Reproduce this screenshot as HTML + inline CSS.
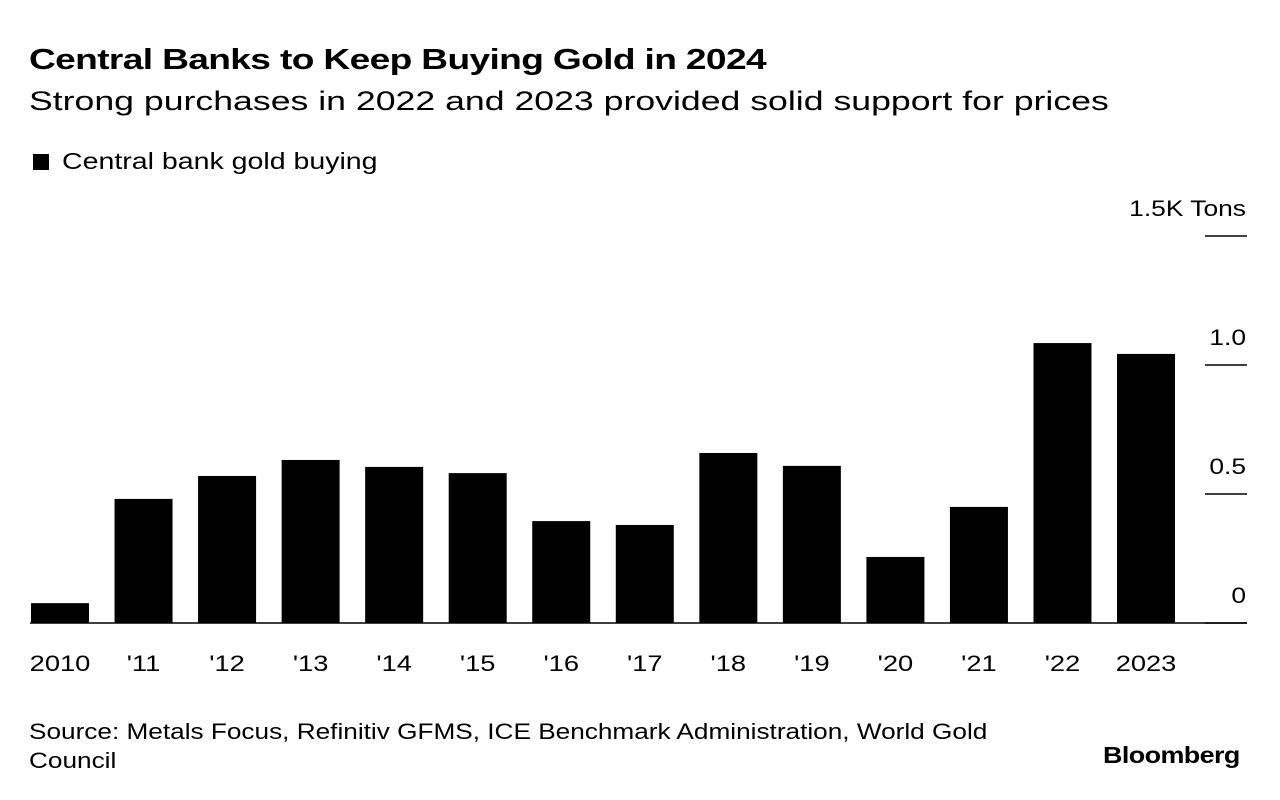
<!DOCTYPE html>
<html><head><meta charset="utf-8"><style>
body{margin:0;width:1280px;height:800px;background:#fff;font-family:"Liberation Sans",sans-serif;color:#000;overflow:hidden;position:relative}
.t{position:absolute;white-space:nowrap;transform-origin:left top}
</style></head><body>
<div class="t" style="left:29px;top:44px;font-size:29px;font-weight:bold;letter-spacing:-0.5px;transform:scaleX(1.28)">Central Banks to Keep Buying Gold in 2024</div>
<div class="t" style="left:29px;top:86px;font-size:27px;transform:scaleX(1.32)">Strong purchases in 2022 and 2023 provided solid support for prices</div>
<div class="t" style="left:33px;top:154px;width:16px;height:16px;background:#000"></div>
<div class="t" style="left:62px;top:148px;font-size:23px;transform:scaleX(1.24)">Central bank gold buying</div>
<svg id="chart" width="1280" height="800" style="position:absolute;left:0;top:0"></svg>
<div class="t" style="left:29px;top:717px;font-size:22px;line-height:29px;transform:scaleX(1.19)">Source: Metals Focus, Refinitiv GFMS, ICE Benchmark Administration, World Gold<br>Council</div>
<div class="t" style="left:1103px;top:742px;font-size:23px;font-weight:bold;letter-spacing:-0.5px;transform:scaleX(1.17)">Bloomberg</div>
<script>
const categories=["2010","'11","'12","'13","'14","'15","'16","'17","'18","'19","'20","'21","'22","2023"];
const values=[77,481,570,632,605,581,395,380,659,609,256,450,1085,1043];
const tickValues=[0,500,1000,1500];
const tickLabels=["0","0.5","1.0","1.5K Tons"];
const svg=document.getElementById('chart');
const NS='http://www.w3.org/2000/svg';
const y0=623,pxPer=258/1000;
const yScale=v=>y0-v*pxPer;
const xStart=31,step=83.54,bw=58;
const xScale=i=>xStart+i*step;
function mk(t,a){const e=document.createElementNS(NS,t);for(const k in a)e.setAttribute(k,a[k]);svg.appendChild(e);return e;}
tickValues.forEach((v,i)=>{
  const y=yScale(v);
  const l=mk('line',{x1:1205,x2:1247,y1:y,y2:y,stroke:'#000','stroke-width':1.5});
  
  
  const t=mk('text',{transform:'translate(1246,'+(y-20)+') scale(1.2,1)','text-anchor':'end','font-size':22,'font-family':'Liberation Sans, sans-serif'});
  t.textContent=tickLabels[i];
  
  
});
values.forEach((v,i)=>{
  const r=mk('rect',{x:xScale(i),y:yScale(v),width:bw,height:v*pxPer,fill:'#000'});
  
  
  const t=mk('text',{transform:'translate('+(xScale(i)+bw/2)+',671) scale(1.24,1)','text-anchor':'middle','font-size':22,'font-family':'Liberation Sans, sans-serif'});
  t.textContent=categories[i];
  
  
});
const ax=mk('line',{x1:30,x2:1247,y1:y0,y2:y0,stroke:'#000','stroke-width':1.5});


</script>
</body></html>
